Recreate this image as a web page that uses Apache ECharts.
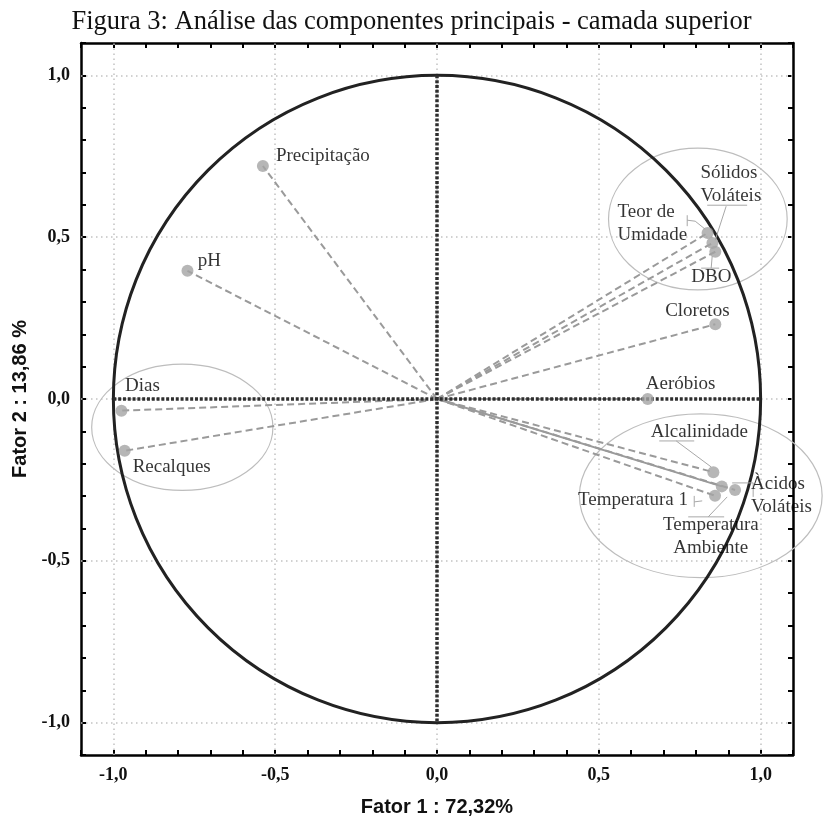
<!DOCTYPE html>
<html><head><meta charset="utf-8">
<script src="https://cdn.jsdelivr.net/npm/echarts@6/dist/echarts.min.js"></script>
<style>html,body{margin:0;padding:0;background:#fff}#c{width:823px;height:816px}</style>
</head><body><div id="c"></div>
<script>
// ---- data ----
const variables = ['Dias','Recalques','pH','Precipitação','Teor de\nUmidade','Sólidos\nVoláteis','DBO','Cloretos','Aeróbios','Alcalinidade','Temperatura\nAmbiente','Àcidos\nVoláteis','Temperatura 1'];
const fator1 = [-0.975,-0.965,-0.771,-0.538,0.836,0.851,0.860,0.860,0.651,0.854,0.880,0.921,0.859];
const fator2 = [-0.036,-0.160,0.396,0.720,0.513,0.482,0.455,0.231,0.000,-0.226,-0.270,-0.281,-0.299];
const solidVectors = ['Temperatura\nAmbiente'];
const gridValues = [-1, -0.5, 0, 0.5, 1];
const axisMin = -1.1, axisMax = 1.1, tickStep = 0.1;
const unitCircle = [[0, 0, 1]];
const crossH = [[-1, 0], [1, 0]];
const crossV = [[0, 1], [0, -1]];
const groupNames = ['1', '2', '3'];
const groupX = [-0.785, 0.554, 0.353];
const groupY = [0.148, 0.722, -0.213];
const ellipseCx = [-0.787, 0.806, 0.815];
const ellipseCy = [-0.0875, 0.556, -0.299];
const ellipseRx = [0.280, 0.276, 0.375];
const ellipseRy = [0.195, 0.219, 0.253];
const leaderLines = [
  [[0.7731,0.5679],[0.7731,0.534]],
  [[0.7731,0.5525],[0.7978,0.5494],[0.8287,0.5247]],
  [[0.8349,0.5988],[0.9583,0.5988]],
  [[0.8935,0.5957],[0.8596,0.4907]],
  [[0.8164,0.4043],[0.8719,0.4043]],
  [[0.8472,0.4043],[0.8503,0.4414]],
  [[0.6867,-0.1296],[0.7948,-0.1296]],
  [[0.7392,-0.1296],[0.8472,-0.2099]],
  [[0.912,-0.2593],[0.9769,-0.2593],[0.9769,-0.3025]],
  [[0.7948,-0.2994],[0.7948,-0.3333]],
  [[0.7948,-0.3179],[0.8194,-0.3148]],
  [[0.7762,-0.3642],[0.8873,-0.3642]],
  [[0.838,-0.3642],[0.8966,-0.3025]]
];
// ---- label layout (pixel offsets) ----
const labelLayout = {
  'Dias': {align:'center', offset:[21,-25]},
  'Recalques': {align:'center', offset:[47,16]},
  'pH': {align:'center', offset:[22,-10]},
  'Precipitação': {align:'center', offset:[60,-10]},
  'Teor de\nUmidade': {align:'left', offset:[-90,-9]},
  'Sólidos\nVoláteis': {align:'left', offset:[-12,-58]},
  'DBO': {align:'center', offset:[-4,25]},
  'Cloretos': {align:'center', offset:[-18,-13]},
  'Aeróbios': {align:'center', offset:[33,-15]},
  'Alcalinidade': {align:'center', offset:[-14,-40]},
  'Temperatura\nAmbiente': {align:'center', offset:[-11,50]},
  'Àcidos\nVoláteis': {align:'left', offset:[16,6]},
  'Temperatura 1': {align:'right', offset:[-27,4]}
};
const groupStyle = {'1': 'bold', '2': 'normal', '3': 'bold'};

const SERIF = '"Liberation Serif","Times New Roman",serif';
const SANS = '"Liberation Sans",Arial,sans-serif';

function fmt(v) {
  const r = Math.round(v * 10) / 10;
  if (Math.abs(r * 2 - Math.round(r * 2)) > 1e-9) return '';
  let s = r.toFixed(1).replace('.', ',');
  if (s === '-0,0') s = '0,0';
  return s;
}
function makeAxis(pos, showLabel, extra) {
  return Object.assign({
    type: 'value', position: pos, min: axisMin, max: axisMax, interval: tickStep,
    axisLine: {show: true, onZero: false, lineStyle: {color: '#000', width: 2.5}},
    axisTick: {show: true, inside: true, length: 5, lineStyle: {color: '#000', width: 2}},
    axisLabel: {show: showLabel, formatter: fmt, margin: 11, fontFamily: SERIF, fontWeight: 'bold', fontSize: 18, color: '#111'},
    splitLine: {show: false}
  }, extra || {});
}

const chart = echarts.init(document.getElementById('c'), null, {renderer: 'canvas'});
const gridLines = [];
gridValues.forEach(v => {
  gridLines.push({coords: [[v, axisMin], [v, axisMax]]});
  gridLines.push({coords: [[axisMin, v], [axisMax, v]]});
});

chart.setOption({
  animation: false,
  backgroundColor: '#fff',
  title: {
    text: 'Figura 3: Análise das componentes principais - camada superior',
    left: 'center', top: 4,
    textStyle: {fontFamily: SERIF, fontWeight: 'normal', fontSize: 26.5, color: '#111'}
  },
  grid: {left: 81, top: 43, width: 712, height: 712, containLabel: false, outerBoundsMode: 'none'},
  xAxis: [
    makeAxis('bottom', true, {name: 'Fator 1 : 72,32%', nameLocation: 'middle', nameGap: 42,
      nameTextStyle: {fontFamily: SANS, fontWeight: 'bold', fontSize: 20, color: '#111'}}),
    makeAxis('top', false)
  ],
  yAxis: [
    makeAxis('left', true, {name: 'Fator 2 : 13,86 %', nameLocation: 'middle', nameGap: 50, nameRotate: 90,
      nameTextStyle: {fontFamily: SANS, fontWeight: 'bold', fontSize: 20, color: '#111'}}),
    makeAxis('right', false)
  ],
  series: [
    { // light dotted grid
      type: 'lines', coordinateSystem: 'cartesian2d', z: 1, silent: true,
      lineStyle: {color: '#c2c2c2', width: 1.5, type: [1.5, 3.5], opacity: 1},
      data: gridLines
    },
    { // ellipses
      type: 'custom', z: 2, silent: true, clip: false,
      data: ellipseCx.map((c, i) => [c, ellipseCy[i], ellipseRx[i], ellipseRy[i]]),
      renderItem: (params, api) => {
        const c = api.coord([api.value(0), api.value(1)]);
        const s = api.size([api.value(2), api.value(3)]);
        return {type: 'ellipse', shape: {cx: c[0], cy: c[1], rx: s[0], ry: s[1]},
          style: {fill: 'none', stroke: '#bdbdbd', lineWidth: 1.2}};
      }
    },
    { // unit circle
      type: 'custom', z: 3, silent: true, clip: false,
      data: unitCircle,
      renderItem: (params, api) => {
        const c = api.coord([api.value(0), api.value(1)]);
        const r = api.size([api.value(2), 0])[0];
        return {type: 'circle', shape: {cx: c[0], cy: c[1], r: r},
          style: {fill: 'none', stroke: '#222', lineWidth: 3}};
      }
    },
    { // vectors
      type: 'lines', coordinateSystem: 'cartesian2d', z: 4, silent: true,
      data: variables.map((n, i) => ({
        coords: [[0, 0], [fator1[i], fator2[i]]],
        lineStyle: {type: solidVectors.includes(n) ? 'solid' : [7, 4], color: '#9a9a9a', width: 2, opacity: 1}
      }))
    },
    { // axis cross
      type: 'lines', coordinateSystem: 'cartesian2d', z: 5, silent: true,
      lineStyle: {color: '#2e2e2e', width: 3.5, type: [3, 1.8], opacity: 1},
      data: [{coords: crossH}, {coords: crossV}]
    },
    { // leader lines
      type: 'lines', coordinateSystem: 'cartesian2d', polyline: true, z: 5, silent: true,
      lineStyle: {color: '#a8a8a8', width: 1, opacity: 1},
      data: leaderLines.map(p => ({coords: p}))
    },
    { // points
      type: 'scatter', z: 6, symbol: 'circle', symbolSize: 12, silent: true,
      itemStyle: {color: '#a4a4a4'},
      data: variables.map((n, i) => ({
        name: n, value: [fator1[i], fator2[i]],
        label: {show: true, position: 'inside', formatter: '{b}', align: labelLayout[n].align,
          verticalAlign: 'middle', offset: labelLayout[n].offset,
          fontFamily: SERIF, fontSize: 19, lineHeight: 23, color: '#000',
          textBorderWidth: 0, textBorderColor: 'transparent'}
      }))
    },
    { // group numbers
      type: 'scatter', z: 6, symbol: 'none', silent: true,
      data: groupNames.map((g, i) => ({
        name: g, value: [groupX[i], groupY[i]],
        label: {show: true, position: 'inside', formatter: '{b}', fontFamily: SERIF,
          fontWeight: groupStyle[g], fontSize: 19, color: '#000',
          textBorderWidth: 0, textBorderColor: 'transparent'}
      }))
    }
  ]
});
</script></body></html>
